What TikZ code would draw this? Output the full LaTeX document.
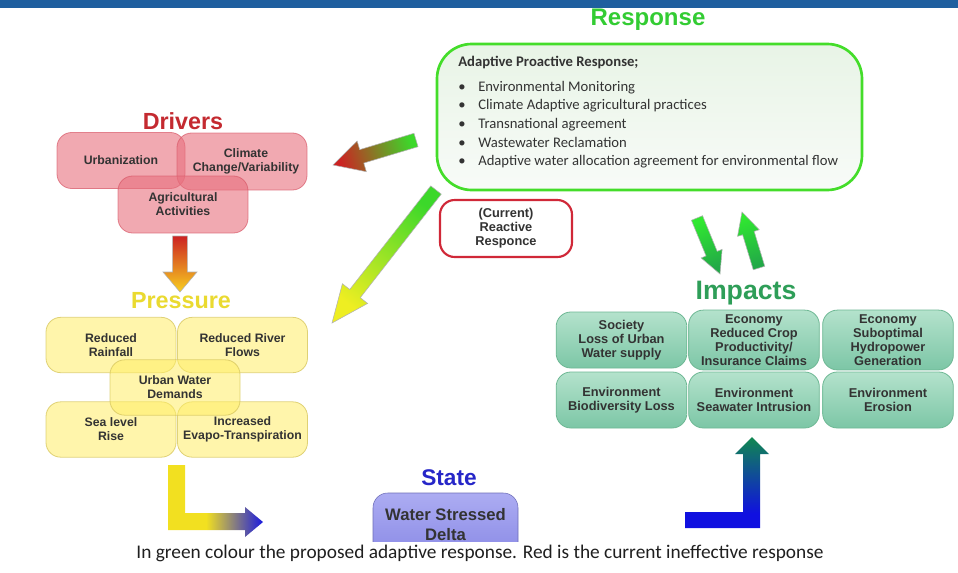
\documentclass[tikz,border=0pt]{standalone}
\usepackage{fontspec}
\setmainfont{Liberation Sans}
\newfontfamily\carl{Carlito}
\usetikzlibrary{calc,shadings}
\definecolor{banner}{HTML}{1F5F9F}
\definecolor{txt}{HTML}{333333}
\definecolor{drvfill}{HTML}{E8707E}
\definecolor{drvline}{HTML}{D85868}
\definecolor{prsfill}{HTML}{FFEE66}
\definecolor{prsline}{HTML}{D8C860}
\definecolor{imptop}{HTML}{B4E2CC}
\definecolor{impbot}{HTML}{7CC6A6}
\definecolor{impline}{HTML}{6EB894}
\definecolor{respline}{HTML}{44DD2A}
\definecolor{resptop}{HTML}{E8F4E6}
\definecolor{respbot}{HTML}{F8FBF8}
\definecolor{redb}{HTML}{D02838}
\definecolor{tresp}{HTML}{33CC33}
\definecolor{tdrv}{HTML}{C42A30}
\definecolor{tprs}{HTML}{EADA30}
\definecolor{timp}{HTML}{2E9E58}
\definecolor{tsta}{HTML}{2626C8}
\definecolor{statop}{HTML}{ACACF2}
\definecolor{stabot}{HTML}{8A8AE6}
\definecolor{yelA}{HTML}{F2E020}
\definecolor{bluA}{HTML}{1A1AE0}
\definecolor{bluB}{HTML}{1010E0}
\definecolor{grnB}{HTML}{108850}
\definecolor{agreen}{HTML}{3CD82A}
\definecolor{ared}{HTML}{CC2222}
\definecolor{ayel}{HTML}{EEEE22}
\definecolor{aorange}{HTML}{F8D020}
\definecolor{gbright}{HTML}{30E830}
\definecolor{gdark}{HTML}{22A848}
\pgfdeclarehorizontalshading{ylbl}{100bp}{color(0bp)=(yelA); color(25bp)=(yelA); color(45bp)=(yelA); color(75bp)=(bluA); color(100bp)=(bluA)}
\pgfdeclareverticalshading{blgr}{100bp}{color(0bp)=(bluB); color(25bp)=(bluB); color(33bp)=(bluB); color(75bp)=(grnB); color(100bp)=(grnB)}
% #1 style, #2 tail, #3 tip, #4 shaft half width, #5 head half width, #6 head length, #7 shading angle
\newcommand\blockarrow[7]{%
  \coordinate (hb) at ($(#3)!#6!(#2)$);
  \path[#1, shading angle=#7]
    ($(#2)!#4!90:(#3)$) -- ($(hb)!#4!90:(#3)$) -- ($(hb)!#5!90:(#3)$) -- (#3)
    -- ($(hb)!#5!-90:(#3)$) -- ($(hb)!#4!-90:(#3)$) -- ($(#2)!#4!-90:(#3)$) -- cycle;
}
\tikzset{
  boxtxt/.style={font=\bfseries\fontsize{9.2}{10.5}\selectfont, text=txt, align=center, text opacity=1},
  drvbox/.style={boxtxt, rounded corners=11pt, minimum width=97.5pt, minimum height=42pt,
    fill=drvfill, fill opacity=0.6, draw=drvline, draw opacity=0.7, line width=0.6pt},
  prsbox/.style={boxtxt, rounded corners=11pt, minimum width=97.5pt, minimum height=41.5pt,
    fill=prsfill, fill opacity=0.55, draw=prsline, draw opacity=0.8, line width=0.6pt},
  impbox/.style={boxtxt, font=\bfseries\fontsize{9.6}{10.5}\selectfont, rounded corners=11pt,
    minimum width=98pt, minimum height=42pt, top color=imptop, bottom color=impbot, draw=impline, line width=0.6pt},
  ttl/.style={font=\bfseries\fontsize{#1}{#1}\selectfont},
  arr/.style={draw=black!30, line width=0.4pt}
}
\begin{document}
\begin{tikzpicture}[x=0.75pt,y=-0.75pt]
\useasboundingbox (0,0) rectangle (958,572);
\fill[white] (0,0) rectangle (958,572);
\fill[banner] (0,0) rectangle (958,8);

% ---------- Response ----------
\node[ttl=18, text=tresp] (tresp) at (648,20) {Response};
\node[draw=respline, line width=2pt, rounded corners=26pt, minimum width=318.75pt, minimum height=109.5pt,
      top color=resptop, bottom color=respbot] (resp) at (649.5,117) {};
\node[anchor=north west, inner sep=0pt, align=left, text=txt, font=\carl\fontsize{11}{14}\selectfont] (resptext) at (458,56)
  {\textbf{Adaptive Proactive Response;}\\[4.5pt]
   \makebox[15pt][l]{\textbullet}Environmental Monitoring\\
   \makebox[15pt][l]{\textbullet}Climate Adaptive agricultural practices\\
   \makebox[15pt][l]{\textbullet}Transnational agreement\\
   \makebox[15pt][l]{\textbullet}Wastewater Reclamation\\
   \makebox[15pt][l]{\textbullet}Adaptive water allocation agreement for environmental flow};

\node[boxtxt, font=\bfseries\fontsize{9.6}{10.5}\selectfont, draw=redb, line width=1.6pt, fill=white, rounded corners=11pt,
      minimum width=99pt, minimum height=42.75pt] (cur) at (506,228.5) {(Current)\\Reactive\\Responce};

% ---------- Drivers ----------
\node[ttl=17.5, text=tdrv] (tdrv) at (183,121) {Drivers};
\node[drvbox, minimum width=96pt] (urb) at (121,160.5) {Urbanization};
\node[drvbox, minimum height=42.75pt] (cli) at (242,161.5) {\hspace*{6pt}Climate\\\hspace*{6pt}Change/Variability};
\node[drvbox, minimum height=42.75pt] (agr) at (183,204.5) {Agricultural\\Activities};

% ---------- Pressure ----------
\node[ttl=17.5, text=tprs] (tprs) at (181,301) {Pressure};
\node[prsbox] (rr) at (111,345) {Reduced\\Rainfall};
\node[prsbox] (rf) at (242.5,345) {Reduced River\\Flows};
\node[prsbox] (sl) at (111,429.5) {Sea level\\Rise};
\node[prsbox] (ie) at (242.5,429.5) {Increased\\Evapo-Transpiration};
\node[prsbox] (uw) at (175,387.5) {Urban Water\\Demands};

% ---------- Impacts ----------
\node[ttl=20, text=timp] (timp) at (746,293) {Impacts};
\node[impbox] (soc) at (621.5,340) {Society\\Loss of Urban\\Water supply};
\node[impbox] (eco1) at (754,340) {Economy\\Reduced Crop\\Productivity/\\Insurance Claims};
\node[impbox] (eco2) at (888,340) {Economy\\Suboptimal\\Hydropower\\Generation};
\node[impbox] (env1) at (621.5,400) {Environment\\Biodiversity Loss};
\node[impbox] (env2) at (754,400) {Environment\\Seawater Intrusion};
\node[impbox] (env3) at (888,400) {Environment\\Erosion};

% ---------- State ----------
\node[ttl=17, text=tsta] (tsta) at (449,478) {State};
\begin{scope}
\clip (0,0) rectangle (958,541);
\node[boxtxt, font=\bfseries\fontsize{12.5}{15}\selectfont, rounded corners=11pt, minimum width=108.75pt, minimum height=48pt,
      top color=statop, bottom color=stabot, draw=stabot!80!black, line width=0.4pt] (state) at (445.5,525) {Water Stressed\\Delta};
\end{scope}

% ---------- Block arrows ----------
\coordinate (da1) at (180,236);
\coordinate (da2) at (180,292);
\blockarrow{arr, top color=aorange, bottom color=ared}{da1}{da2}{5.6pt}{12.75pt}{15pt}{180}

\coordinate (ra1) at (416,140);
\coordinate (ra2) at (333,165);
\blockarrow{arr, top color=ared, bottom color=agreen}{ra1}{ra2}{5.25pt}{12pt}{22.5pt}{106.8}

\coordinate (ya1) at (436,190);
\coordinate (ya2) at (332,323);
\blockarrow{arr, top color=ayel, bottom color=agreen}{ya1}{ya2}{5pt}{12pt}{28pt}{142}

\coordinate (ga1) at (697,218);
\coordinate (ga2) at (720,274);
\blockarrow{arr, top color=gdark, bottom color=gbright}{ga1}{ga2}{4.5pt}{8.5pt}{16.5pt}{202.3}

\coordinate (ua1) at (759,268);
\coordinate (ua2) at (742,212);
\blockarrow{arr, top color=gbright, bottom color=gdark}{ua1}{ua2}{4.5pt}{8.5pt}{16.5pt}{17.5}

% L-arrow pressure -> state
\shade[shading=ylbl] (168,465) -- (185,465) -- (185,513) -- (245,513) -- (245,507) -- (263,522) -- (245,537) -- (245,530) -- (168,530) -- cycle;
% L-arrow state -> impacts
\shade[shading=blgr] (685,512) -- (743,512) -- (743,454) -- (735,454) -- (752,437) -- (769,454) -- (760,454) -- (760,528) -- (685,528) -- cycle;

% ---------- Caption ----------
\node[font=\carl\fontsize{14.5}{16}\selectfont, text=black!88] (capt) at (480,553)
  {In green colour the proposed adaptive response. Red is the current ineffective response};
\end{tikzpicture}
\end{document}
